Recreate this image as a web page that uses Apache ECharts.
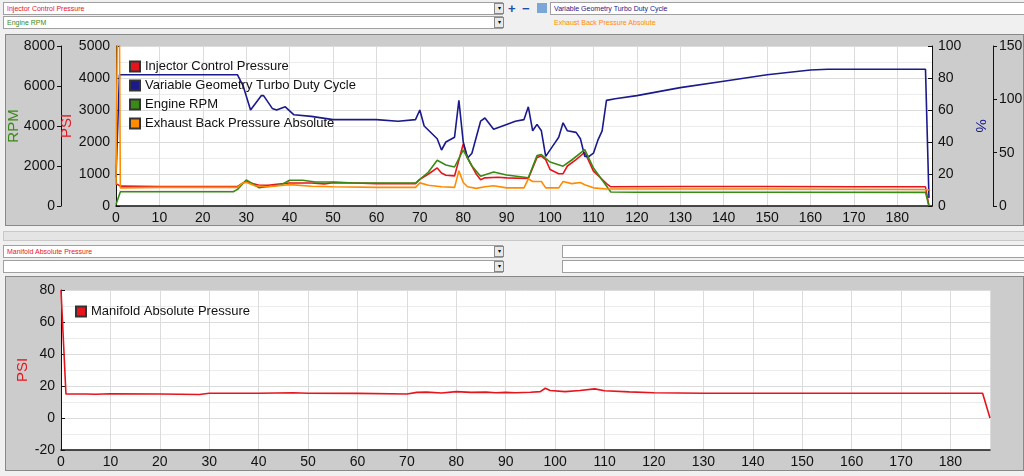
<!DOCTYPE html>
<html>
<head>
<meta charset="utf-8">
<script src="https://cdn.jsdelivr.net/npm/echarts@6/dist/echarts.min.js"></script>
<style>
body{margin:0;width:1024px;height:476px;background:#f0f0f0;overflow:hidden;font-family:"Liberation Sans",Arial,sans-serif;position:relative}
.box{position:absolute;height:11px;background:#fff;border:1px solid #a0a0a0;font-size:7px;line-height:11px;padding-left:3px;box-sizing:content-box}
.drop{position:absolute;width:8px;height:9px;border:1px solid #888;background:#e8e8e8;font-size:6px;line-height:9px;text-align:center}
.panel{position:absolute;left:5px;width:1017px;background:#cccccc;border:1px solid #888}
</style>
</head>
<body>
<div class="box" style="left:3px;top:2px;width:495px;color:#e8141c">Injector Control Pressure</div>
<div class="drop" style="left:494px;top:3px">▾</div>
<div style="position:absolute;left:508px;top:1px;font-size:13px;font-weight:bold;color:#1d4fa8">+</div>
<div style="position:absolute;left:522px;top:1px;font-size:13px;font-weight:bold;color:#1d4fa8">−</div>
<div style="position:absolute;left:537px;top:3px;width:10px;height:10px;background:#7aa6d8"></div>
<div class="box" style="left:550px;top:2px;width:470px;color:#1a1a8c">Variable Geometry Turbo Duty Cycle</div>
<div class="box" style="left:3px;top:16px;width:495px;color:#3a8a16">Engine RPM</div>
<div class="drop" style="left:494px;top:17px">▾</div>
<div class="box" style="left:550px;top:16px;width:470px;color:#ff8c00;border-color:#f0f0f0;background:#f0f0f0">Exhaust Back Pressure Absolute</div>
<div class="panel" style="top:34px;height:190px"><div id="top" style="width:1017px;height:190px"></div></div>
<div style="position:absolute;left:3px;top:231px;width:1020px;height:8px;background:#e4e4e4;border:1px solid #c8c8c8"></div>
<div class="box" style="left:3px;top:245px;width:495px;color:#e8141c">Manifold Absolute Pressure</div>
<div class="drop" style="left:494px;top:246px">▾</div>
<div class="box" style="left:562px;top:245px;width:458px"></div>
<div class="box" style="left:3px;top:260px;width:495px"></div>
<div class="drop" style="left:494px;top:261px">▾</div>
<div class="box" style="left:562px;top:260px;width:458px"></div>
<div class="panel" style="top:276px;height:193px"><div id="bottom" style="width:1017px;height:193px"></div></div>
<script>
// time (s), value pairs
var icpT = [0,1,10,20,28,29,30,31,33,35,37,40,42,45,48,50,55,60,65,69,70,72,74,75,76,78,80,81,83,84,85,88,90,95,97,98,99,100,102,103,104,106,108,110,111,113,114,130,150,170,186.5,187.3];
var icpV = [700,620,610,610,610,700,770,720,650,650,680,720,720,720,690,730,720,700,700,700,830,1000,1190,1030,960,940,1940,1500,1000,820,880,900,880,860,1520,1560,1450,1140,1010,1010,1250,1450,1680,1090,960,700,600,610,610,600,600,0];
var vgtT = [0,0.8,28,29.3,31,33.5,34,36,37,39,41,45,50,55,60,65,69,70,71,74,75,76,78,79,80,81,82,84,85,87,90,92,94,95,96,97,98,99,101,102,103,104,106,107,108,109,110,111,112,113,115,120,130,140,150,160,164,186.5,187.3];
var vgtV = [18,82,82,75,60,69,69,61,60,62,57,56,54,54,54,53,54,60,50,42,35,40,43,66,40,30,33,53,55,48,51,53,54,62,47,51,47,31,39,43,52,47,46,42,31,31,33,41,47,66,67,69,74,78,82,85,85.5,85.5,5];
var rpmT = [0,1,10,20,27,28,30,33,36,38,40,43,46,50,55,60,65,69,72,74,76,78,80,82,84,87,90,95,97,98,100,103,105,108,110,112,114,120,150,186.5,187.3];
var rpmV = [80,710,710,710,710,830,1300,910,1000,1050,1290,1290,1200,1200,1150,1150,1150,1150,1700,2290,2050,1950,2800,2000,1490,1700,1550,1410,2520,2570,2200,1990,2300,2820,1900,1300,700,690,690,680,0];
var ebpT = [0,0.3,0.8,1,10,20,28,29,30,32,35,40,45,50,60,69,70,72,75,78,79,80,81,83,85,87,90,94,95,96,98,99,102,103,105,107,108,110,113,120,150,186,187.3];
var ebpV = [20,160,160,17,17.5,17.5,17.5,21,22.3,19,18,20,18.5,18,17.5,17.5,21.7,19.5,18,17.5,33,22,18,16.5,18,19,17,17,25.5,23,23,17,17,23,21,22,20,17,16,16,16,15.5,15];
var mapT = [0,1,5,7,10,20,28,30,40,47,50,60,70,72,74,77,80,83,86,88,90,92,95,97,98,99,102,105,108,110,115,120,130,140,150,160,170,186.5,188];
var mapV = [80,15,15,14.8,15.2,15,14.7,15.5,15.5,15.8,15.5,15.4,15,16,16.2,15.6,16.5,16,16.2,15.8,16,15.8,16.1,16.5,18.6,17.2,16.5,17.2,18.2,17,16.3,15.8,15.5,15.5,15.5,15.5,15.5,15.5,0];

function pairs(t, v) {
    return t.map(function (x, i) { return [x, v[i]]; });
}
var axisTxt = { color: '#111', fontSize: 14, fontFamily: 'Liberation Sans', formatter: function (v) { return String(v); } };
var grid = { lineStyle: { color: '#dcdcdc' } };
var minorGrid = { show: true, lineStyle: { color: '#ececec' } };
function yAxis(opt) {
    return Object.assign({
        type: 'value',
        axisLine: { show: true, onZero: false, lineStyle: { color: '#111' } },
        axisTick: { show: true, inside: true, length: 4 },
        axisLabel: Object.assign({ margin: 6 }, axisTxt),
        splitLine: { show: false }
    }, opt);
}
function xAxis() {
    return {
        type: 'value', min: 0, max: 188, interval: 10,
        axisLine: { onZero: false, lineStyle: { color: '#111', width: 1.5 } },
        axisTick: { show: false },
        axisLabel: Object.assign({ margin: 5, showMaxLabel: false }, axisTxt),
        splitLine: grid
    };
}
function line(name, color, data, yi) {
    return {
        name: name, type: 'line', yAxisIndex: yi, data: data,
        showSymbol: false, symbol: 'none', clip: true,
        lineStyle: { color: color, width: 1.6 },
        itemStyle: { color: color, borderColor: '#333', borderWidth: 0.5 }
    };
}
// rotated axis titles
function title(text, x, y, color, rot) {
    return {
        type: 'text', x: x, y: y, rotation: rot, z: 10,
        style: { text: text, fill: color, fontSize: 15, fontFamily: 'Liberation Sans', align: 'center', verticalAlign: 'middle' }
    };
}

var topChart = echarts.init(document.getElementById('top'));
topChart.setOption({
    animation: false,
    backgroundColor: 'transparent',
    grid: { left: 110, right: 91, top: 11, bottom: 19, backgroundColor: '#fff', show: true, borderWidth: 0, outerBoundsMode: 'none', containLabel: false },
    legend: {
        orient: 'vertical', left: 118, top: 20, itemGap: 6,
        itemWidth: 10, itemHeight: 10, icon: 'rect',
        textStyle: { fontSize: 13, color: '#111', fontFamily: 'Liberation Sans' }
    },
    graphic: [
        title('RPM', 8, 91, '#3a8a16', Math.PI / 2),
        title('PSI', 61, 91, '#e8141c', Math.PI / 2),
        title('%', 974, 91, '#1a1a8c', -Math.PI / 2)
    ],
    xAxis: xAxis(),
    yAxis: [
        yAxis({ min: 0, max: 5000, interval: 1000, splitLine: grid, minorTick: { show: false, splitNumber: 2 }, minorSplitLine: minorGrid }),
        yAxis({ min: 0, max: 100, interval: 20, position: 'right' }),
        yAxis({ min: 0, max: 8000, interval: 2000, position: 'left', offset: 55, axisTick: { show: true, inside: false, length: 4 } }),
        yAxis({ min: 0, max: 150, interval: 50, position: 'right', offset: 61, axisTick: { show: true, inside: false, length: 4 } })
    ],
    series: [
        line('Injector Control Pressure', '#e8141c', pairs(icpT, icpV), 0),
        line('Variable Geometry Turbo Duty Cycle', '#1a1a8c', pairs(vgtT, vgtV), 1),
        line('Engine RPM', '#3a8a16', pairs(rpmT, rpmV), 2),
        line('Exhaust Back Pressure Absolute', '#ff8c00', pairs(ebpT, ebpV), 3)
    ]
});

var bottomChart = echarts.init(document.getElementById('bottom'));
bottomChart.setOption({
    animation: false,
    backgroundColor: 'transparent',
    grid: { left: 55, right: 33, top: 13, bottom: 20, backgroundColor: '#fff', show: true, borderWidth: 0, outerBoundsMode: 'none', containLabel: false },
    legend: {
        left: 64, top: 23, itemWidth: 10, itemHeight: 10, icon: 'rect',
        textStyle: { fontSize: 13, color: '#111', fontFamily: 'Liberation Sans' }
    },
    graphic: [title('PSI', 17, 93, '#e8141c', Math.PI / 2)],
    xAxis: xAxis(),
    yAxis: [yAxis({ min: -20, max: 80, interval: 20, splitLine: grid, minorSplitLine: minorGrid, minorTick: { show: false, splitNumber: 2 } })],
    series: [line('Manifold Absolute Pressure', '#e8141c', pairs(mapT, mapV), 0)]
});
</script>
</body>
</html>
